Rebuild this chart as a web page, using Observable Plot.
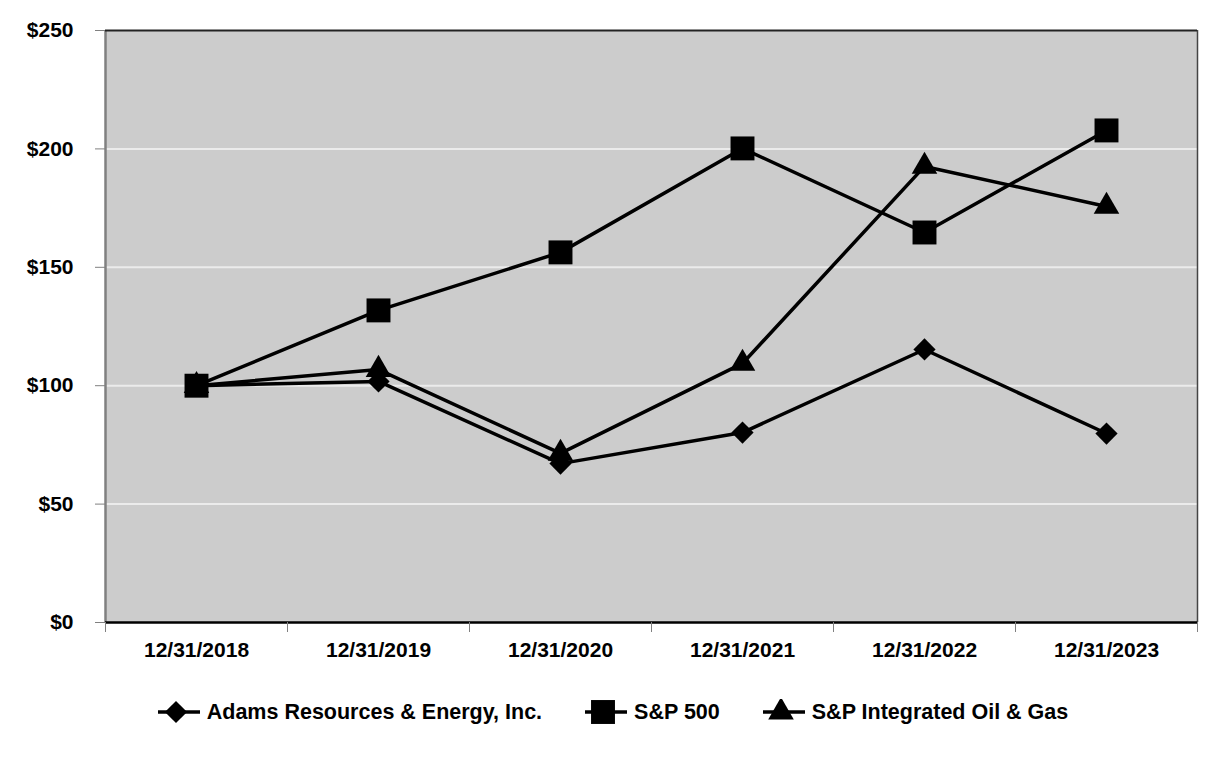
<!DOCTYPE html>
<html>
<head>
<meta charset="utf-8">
<script src="https://cdn.jsdelivr.net/npm/d3@7"></script>
<script src="https://cdn.jsdelivr.net/npm/@observablehq/plot@0.6"></script>
<style>
  html, body { margin: 0; padding: 0; background: #ffffff; }
  #chart { width: 1226px; }
  #legend {
    display: flex; justify-content: center; align-items: center; gap: 43px;
    padding-top: 19px; height: 26px;
    font-family: "Liberation Sans", Arial, sans-serif; font-weight: bold; font-size: 21.5px; color: #000;
  }
  .item { display: flex; align-items: center; gap: 7px; }
  .item svg { display: block; }
</style>
</head>
<body>
<div id="chart"></div>
<div id="legend"></div>
<script>
const dates = ["12/31/2018", "12/31/2019", "12/31/2020", "12/31/2021", "12/31/2022", "12/31/2023"];
const seriesNames = ["Adams Resources & Energy, Inc.", "S&P 500", "S&P Integrated Oil & Gas"];
const adams = [100, 101.8, 67.1, 80.2, 115.3, 79.8];
const sp500 = [100, 131.8, 156.3, 200.2, 164.7, 207.8];
const oilgas = [100, 106.8, 71.4, 109.4, 192.6, 175.7];
const yTicks = [0, 50, 100, 150, 200, 250];
const gridTicks = [50, 100, 150, 200];

const seriesValues = [adams, sp500, oilgas];
const symbols = ["diamond2", "square", "triangle"];
const radii = [10, 13.5, 9.5];

const rows = [];
seriesValues.forEach((vals, s) => vals.forEach((v, i) => rows.push({i, date: dates[i], value: v, series: seriesNames[s]})));

const W = 1226, H = 680, mL = 105, mR = 29, mT = 30, mB = 58;
const boundaries = d3.range(dates.length + 1).map(k => k - 0.5);
const centers = d3.range(dates.length);

const marks = [
  Plot.frame({fill: "#cccccc", stroke: null}),
  Plot.gridY({ticks: gridTicks, stroke: "#ebebeb", strokeOpacity: 1, strokeWidth: 2}),
  Plot.ruleX([-0.5], {stroke: "#808080", strokeWidth: 2.5}),
  Plot.ruleX([5.5], {stroke: "#444444", strokeWidth: 1.5}),
  Plot.ruleY([250], {stroke: "#222222", strokeWidth: 2}),
  Plot.ruleY([0], {stroke: "#000000", strokeWidth: 2.5}),
  Plot.axisY({ticks: yTicks, tickFormat: d => "$" + d, tickSize: 10, tickPadding: 22, stroke: "#808080", fill: "#000", label: null}),
  Plot.axisX({ticks: boundaries, tickFormat: () => "", tickSize: 10, tickPadding: 0, stroke: "#808080", label: null}),
  Plot.axisX({ticks: centers, tickFormat: i => dates[i], tickSize: 0, tickPadding: 20, fill: "#000", label: null}),
  Plot.line(rows, {x: "i", y: "value", z: "series", stroke: "#000", strokeWidth: 3.5, strokeLinejoin: "round"}),
  ...seriesNames.map((name, s) =>
    Plot.dot(rows.filter(d => d.series === name), {x: "i", y: "value", symbol: () => symbols[s], r: radii[s], fill: "#000", stroke: null})
  )
];

const chart = Plot.plot({
  width: W, height: H,
  marginLeft: mL, marginRight: mR, marginTop: mT, marginBottom: mB,
  x: {type: "linear", domain: [-0.5, 5.5], axis: null, label: null},
  y: {type: "linear", domain: [0, 250], axis: null, label: null},
  symbol: {type: "identity"},
  style: {fontFamily: "Liberation Sans, Arial, sans-serif", fontSize: "21px", fontWeight: "bold", background: "#ffffff", color: "#000"},
  marks
});
document.getElementById("chart").appendChild(chart);

// Legend
const symGen = [d3.symbolDiamond2, d3.symbolSquare, d3.symbolTriangle];
const legend = document.getElementById("legend");
seriesNames.forEach((name, s) => {
  const item = document.createElement("div");
  item.className = "item";
  const size = Math.PI * radii[s] * radii[s];
  const path = d3.symbol(symGen[s], size)();
  item.innerHTML = `<svg width="42" height="26" viewBox="0 0 42 26">
      <line x1="0" x2="42" y1="13" y2="13" stroke="#000" stroke-width="3.5"/>
      <path d="${path}" transform="translate(18,13)" fill="#000"/>
    </svg><span>${name.replace(/&/g, "&amp;")}</span>`;
  legend.appendChild(item);
});
</script>
</body>
</html>
